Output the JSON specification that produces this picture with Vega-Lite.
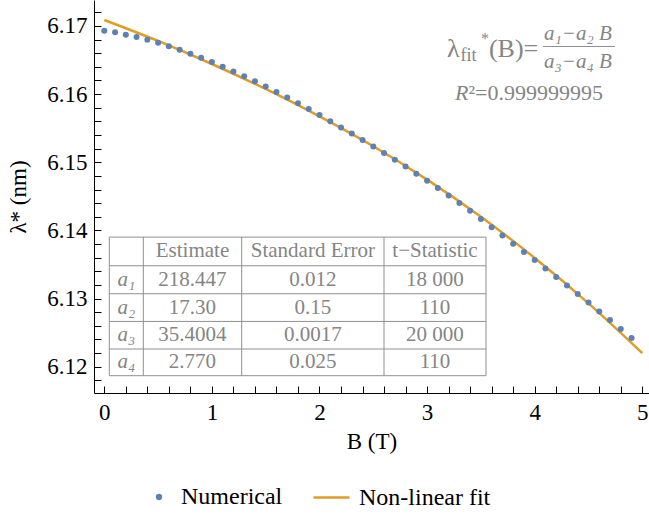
{
  "$schema": "https://vega.github.io/schema/vega-lite/v6.json",
  "width": 555,
  "height": 393,
  "autosize": {"type": "none"},
  "padding": {"left": 94, "top": 0, "right": 0, "bottom": 126},
  "background": "white",
  "config": {
    "view": {"stroke": null},
    "font": "Liberation Serif",
    "legend": {"padding": 0}
  },
  "datasets": {
    "numerical": [
      {"B": 0.0, "lam": 6.16931, "series": "Numerical"},
      {"B": 0.1, "lam": 6.16908, "series": "Numerical"},
      {"B": 0.2, "lam": 6.16872, "series": "Numerical"},
      {"B": 0.3, "lam": 6.16839, "series": "Numerical"},
      {"B": 0.4, "lam": 6.16799, "series": "Numerical"},
      {"B": 0.5, "lam": 6.16755, "series": "Numerical"},
      {"B": 0.6, "lam": 6.16702, "series": "Numerical"},
      {"B": 0.7, "lam": 6.16652, "series": "Numerical"},
      {"B": 0.8, "lam": 6.16594, "series": "Numerical"},
      {"B": 0.9, "lam": 6.16535, "series": "Numerical"},
      {"B": 1.0, "lam": 6.16472, "series": "Numerical"},
      {"B": 1.1, "lam": 6.16403, "series": "Numerical"},
      {"B": 1.2, "lam": 6.16333, "series": "Numerical"},
      {"B": 1.3, "lam": 6.16262, "series": "Numerical"},
      {"B": 1.4, "lam": 6.16189, "series": "Numerical"},
      {"B": 1.5, "lam": 6.16110, "series": "Numerical"},
      {"B": 1.6, "lam": 6.16032, "series": "Numerical"},
      {"B": 1.7, "lam": 6.15949, "series": "Numerical"},
      {"B": 1.8, "lam": 6.15867, "series": "Numerical"},
      {"B": 1.9, "lam": 6.15783, "series": "Numerical"},
      {"B": 2.0, "lam": 6.15695, "series": "Numerical"},
      {"B": 2.1, "lam": 6.15603, "series": "Numerical"},
      {"B": 2.2, "lam": 6.15509, "series": "Numerical"},
      {"B": 2.3, "lam": 6.15421, "series": "Numerical"},
      {"B": 2.4, "lam": 6.15328, "series": "Numerical"},
      {"B": 2.5, "lam": 6.15233, "series": "Numerical"},
      {"B": 2.6, "lam": 6.15136, "series": "Numerical"},
      {"B": 2.7, "lam": 6.15037, "series": "Numerical"},
      {"B": 2.8, "lam": 6.14936, "series": "Numerical"},
      {"B": 2.9, "lam": 6.14833, "series": "Numerical"},
      {"B": 3.0, "lam": 6.14728, "series": "Numerical"},
      {"B": 3.1, "lam": 6.14621, "series": "Numerical"},
      {"B": 3.2, "lam": 6.14512, "series": "Numerical"},
      {"B": 3.3, "lam": 6.14401, "series": "Numerical"},
      {"B": 3.4, "lam": 6.14288, "series": "Numerical"},
      {"B": 3.5, "lam": 6.14168, "series": "Numerical"},
      {"B": 3.6, "lam": 6.14048, "series": "Numerical"},
      {"B": 3.7, "lam": 6.13925, "series": "Numerical"},
      {"B": 3.8, "lam": 6.13804, "series": "Numerical"},
      {"B": 3.9, "lam": 6.13682, "series": "Numerical"},
      {"B": 4.0, "lam": 6.13564, "series": "Numerical"},
      {"B": 4.1, "lam": 6.13441, "series": "Numerical"},
      {"B": 4.2, "lam": 6.13315, "series": "Numerical"},
      {"B": 4.3, "lam": 6.13192, "series": "Numerical"},
      {"B": 4.4, "lam": 6.13066, "series": "Numerical"},
      {"B": 4.5, "lam": 6.12943, "series": "Numerical"},
      {"B": 4.6, "lam": 6.12811, "series": "Numerical"},
      {"B": 4.7, "lam": 6.12685, "series": "Numerical"},
      {"B": 4.8, "lam": 6.12553, "series": "Numerical"},
      {"B": 4.9, "lam": 6.12421, "series": "Numerical"}
    ],
    "fit": [
      {"B": 0.0, "lam": 6.17088, "fitname": "Non-linear fit"},
      {"B": 0.5, "lam": 6.16780, "fitname": "Non-linear fit"},
      {"B": 1.0, "lam": 6.16442, "fitname": "Non-linear fit"},
      {"B": 1.5, "lam": 6.16075, "fitname": "Non-linear fit"},
      {"B": 2.0, "lam": 6.15674, "fitname": "Non-linear fit"},
      {"B": 2.5, "lam": 6.15235, "fitname": "Non-linear fit"},
      {"B": 3.0, "lam": 6.14745, "fitname": "Non-linear fit"},
      {"B": 3.5, "lam": 6.14200, "fitname": "Non-linear fit"},
      {"B": 4.0, "lam": 6.13595, "fitname": "Non-linear fit"},
      {"B": 4.5, "lam": 6.12930, "fitname": "Non-linear fit"},
      {"B": 5.0, "lam": 6.12200, "fitname": "Non-linear fit"}
    ],
    "lines": [
      {"B": 0.0465, "B2": 3.5474, "lam": 6.139018, "lam2": 6.139018},
      {"B": 0.0465, "B2": 3.5474, "lam": 6.134809, "lam2": 6.134809},
      {"B": 0.0465, "B2": 3.5474, "lam": 6.130704, "lam2": 6.130704},
      {"B": 0.0465, "B2": 3.5474, "lam": 6.126642, "lam2": 6.126642},
      {"B": 0.0465, "B2": 3.5474, "lam": 6.122595, "lam2": 6.122595},
      {"B": 0.0465, "B2": 3.5474, "lam": 6.118680, "lam2": 6.118680},
      {"B": 0.0465, "B2": 0.0465, "lam": 6.118680, "lam2": 6.139018},
      {"B": 0.3625, "B2": 0.3625, "lam": 6.118680, "lam2": 6.139018},
      {"B": 1.2770, "B2": 1.2770, "lam": 6.118680, "lam2": 6.139018},
      {"B": 2.5995, "B2": 2.5995, "lam": 6.118680, "lam2": 6.139018},
      {"B": 3.5474, "B2": 3.5474, "lam": 6.118680, "lam2": 6.139018},
      {"B": 4.077, "B2": 4.746, "lam": 6.16699, "lam2": 6.16699}
    ],
    "cells": [
      {"B": 0.8197, "lam": 6.136914, "text": "Estimate"},
      {"B": 1.9382, "lam": 6.136914, "text": "Standard Error"},
      {"B": 3.0734, "lam": 6.136914, "text": "t−Statistic"},
      {"B": 0.8197, "lam": 6.132757, "text": "218.447"},
      {"B": 1.9382, "lam": 6.132757, "text": "0.012"},
      {"B": 3.0734, "lam": 6.132757, "text": "18 000"},
      {"B": 0.8197, "lam": 6.128673, "text": "17.30"},
      {"B": 1.9382, "lam": 6.128673, "text": "0.15"},
      {"B": 3.0734, "lam": 6.128673, "text": "110"},
      {"B": 0.8197, "lam": 6.124619, "text": "35.4004"},
      {"B": 1.9382, "lam": 6.124619, "text": "0.0017"},
      {"B": 3.0734, "lam": 6.124619, "text": "20 000"},
      {"B": 0.8197, "lam": 6.120638, "text": "2.770"},
      {"B": 1.9382, "lam": 6.120638, "text": "0.025"},
      {"B": 3.0734, "lam": 6.120638, "text": "110"}
    ],
    "params": [
      {"B": 0.2045, "lam": 6.132757, "text": "a₁"},
      {"B": 0.2045, "lam": 6.128673, "text": "a₂"},
      {"B": 0.2045, "lam": 6.124619, "text": "a₃"},
      {"B": 0.2045, "lam": 6.120638, "text": "a₄"}
    ],
    "formulaBig": [
      {"B": 3.185, "lam": 6.16663, "text": "λ"},
      {"B": 3.575, "lam": 6.16663, "text": "(B)="}
    ],
    "formulaSub": [
      {"B": 3.31, "lam": 6.1656, "text": "fit"}
    ],
    "formulaStar": [
      {"B": 3.5009, "lam": 6.16809, "text": "*"}
    ],
    "fraction": [
      {"B": 4.402, "lam": 6.16883, "text": "a₁−a₂ B"},
      {"B": 4.402, "lam": 6.16472, "text": "a₃−a₄ B"}
    ],
    "rItalic": [
      {"B": 3.259, "lam": 6.16018, "text": "R"}
    ],
    "rValue": [
      {"B": 3.385, "lam": 6.16018, "text": "²=0.999999995"}
    ]
  },
  "layer": [
    {
      "data": {"name": "fit"},
      "mark": {"type": "line", "strokeWidth": 2.5, "interpolate": "monotone"},
      "encoding": {
        "x": {
          "field": "B", "type": "quantitative",
          "scale": {"domain": [-0.0957, 5.0623], "nice": false, "zero": false},
          "axis": {
            "title": "B (T)",
            "values": [0, 0.2, 0.4, 0.6, 0.8, 1, 1.2, 1.4, 1.6, 1.8, 2, 2.2, 2.4, 2.6, 2.8, 3, 3.2, 3.4, 3.6, 3.8, 4, 4.2, 4.4, 4.6, 4.8, 5],
            "tickCount": 200,
            "labelExpr": "abs(datum.value - round(datum.value)) < 0.001 ? format(datum.value, 'd') : ''",
            "tickSize": -7,
            "grid": false,
            "domainColor": "black", "domainWidth": 1,
            "tickColor": "black", "tickWidth": 1,
            "labelFont": "Liberation Serif", "labelFontSize": 23, "labelColor": "black",
            "labelPadding": 15, "labelFlush": false, "labelOverlap": false,
            "titleFont": "Liberation Serif", "titleFontSize": 23, "titleFontWeight": "normal", "titleColor": "black",
            "titlePadding": 6,
            "encode": {
              "ticks": {
                "y2": {"condition": {"test": "abs(datum.value - round(datum.value)) < 0.001", "value": -7}, "value": -4}
              }
            }
          }
        },
        "y": {
          "field": "lam", "type": "quantitative",
          "scale": {"domain": [6.11614, 6.17381], "nice": false, "zero": false},
          "axis": {
            "title": "λ* (nm)",
            "values": [6.118, 6.12, 6.122, 6.124, 6.126, 6.128, 6.13, 6.132, 6.134, 6.136, 6.138, 6.14, 6.142, 6.144, 6.146, 6.148, 6.15, 6.152, 6.154, 6.156, 6.158, 6.16, 6.162, 6.164, 6.166, 6.168, 6.17, 6.172],
            "tickCount": 200,
            "labelExpr": "abs(datum.value * 100 - round(datum.value * 100)) < 0.01 ? format(datum.value, '.2f') : ''",
            "tickSize": -7,
            "grid": false,
            "domainColor": "black", "domainWidth": 1,
            "tickColor": "black", "tickWidth": 1,
            "labelFont": "Liberation Serif", "labelFontSize": 23, "labelColor": "black",
            "labelPadding": 14, "labelFlush": false, "labelOverlap": false,
            "titleFont": "Liberation Serif", "titleFontSize": 23, "titleFontWeight": "normal", "titleColor": "black",
            "titlePadding": 16,
            "encode": {
              "ticks": {
                "x2": {"condition": {"test": "abs(datum.value * 100 - round(datum.value * 100)) < 0.01", "value": 7}, "value": 4}
              }
            }
          }
        },
        "stroke": {
          "field": "fitname", "type": "nominal",
          "scale": {"domain": ["Non-linear fit"], "range": ["#E19C24"]},
          "legend": {
            "title": null,
            "orient": "none",
            "legendX": 218,
            "legendY": 478,
            "direction": "horizontal",
            "symbolType": "stroke",
            "symbolSize": 1300,
            "symbolStrokeWidth": 2.5,
            "labelFont": "Liberation Serif",
            "labelFontSize": 24,
            "labelColor": "black",
            "labelOffset": 8
          }
        }
      }
    },
    {
      "data": {"name": "numerical"},
      "mark": {"type": "point", "filled": true, "shape": "circle", "size": 36, "opacity": 1},
      "encoding": {
        "x": {"field": "B", "type": "quantitative", "scale": {"domain": [-0.0957, 5.0623], "nice": false, "zero": false}},
        "y": {"field": "lam", "type": "quantitative", "scale": {"domain": [6.11614, 6.17381], "nice": false, "zero": false}},
        "fill": {
          "field": "series", "type": "nominal",
          "scale": {"domain": ["Numerical"], "range": ["#5E81B5"]},
          "legend": {
            "title": null,
            "orient": "none",
            "legendX": 53,
            "legendY": 485,
            "direction": "horizontal",
            "symbolType": "circle",
            "symbolSize": 40,
            "symbolStrokeWidth": 0,
            "symbolOpacity": 1,
            "labelFont": "Liberation Serif",
            "labelFontSize": 24,
            "labelColor": "black",
            "labelOffset": 10
          }
        }
      }
    },
    {
      "data": {"name": "lines"},
      "mark": {"type": "rule", "color": "#8f8f8f", "strokeWidth": 1},
      "encoding": {
        "x": {"field": "B", "type": "quantitative", "scale": {"domain": [-0.0957, 5.0623], "nice": false, "zero": false}},
        "x2": {"field": "B2"},
        "y": {"field": "lam", "type": "quantitative", "scale": {"domain": [6.11614, 6.17381], "nice": false, "zero": false}},
        "y2": {"field": "lam2"}
      }
    },
    {
      "data": {"name": "cells"},
      "mark": {"type": "text", "font": "Liberation Serif", "fontSize": 21, "color": "#858585", "align": "center", "baseline": "middle"},
      "encoding": {
        "x": {"field": "B", "type": "quantitative", "scale": {"domain": [-0.0957, 5.0623], "nice": false, "zero": false}},
        "y": {"field": "lam", "type": "quantitative", "scale": {"domain": [6.11614, 6.17381], "nice": false, "zero": false}},
        "text": {"field": "text"}
      }
    },
    {
      "data": {"name": "params"},
      "mark": {"type": "text", "font": "Liberation Serif", "fontSize": 21, "fontStyle": "italic", "color": "#858585", "align": "center", "baseline": "middle"},
      "encoding": {
        "x": {"field": "B", "type": "quantitative", "scale": {"domain": [-0.0957, 5.0623], "nice": false, "zero": false}},
        "y": {"field": "lam", "type": "quantitative", "scale": {"domain": [6.11614, 6.17381], "nice": false, "zero": false}},
        "text": {"field": "text"}
      }
    },
    {
      "data": {"name": "formulaBig"},
      "mark": {"type": "text", "font": "Liberation Serif", "fontSize": 26, "color": "#858585", "align": "left", "baseline": "middle"},
      "encoding": {
        "x": {"field": "B", "type": "quantitative", "scale": {"domain": [-0.0957, 5.0623], "nice": false, "zero": false}},
        "y": {"field": "lam", "type": "quantitative", "scale": {"domain": [6.11614, 6.17381], "nice": false, "zero": false}},
        "text": {"field": "text"}
      }
    },
    {
      "data": {"name": "formulaSub"},
      "mark": {"type": "text", "font": "Liberation Serif", "fontSize": 18, "color": "#858585", "align": "left", "baseline": "middle"},
      "encoding": {
        "x": {"field": "B", "type": "quantitative", "scale": {"domain": [-0.0957, 5.0623], "nice": false, "zero": false}},
        "y": {"field": "lam", "type": "quantitative", "scale": {"domain": [6.11614, 6.17381], "nice": false, "zero": false}},
        "text": {"field": "text"}
      }
    },
    {
      "data": {"name": "formulaStar"},
      "mark": {"type": "text", "font": "Liberation Serif", "fontSize": 16, "color": "#858585", "align": "left", "baseline": "middle"},
      "encoding": {
        "x": {"field": "B", "type": "quantitative", "scale": {"domain": [-0.0957, 5.0623], "nice": false, "zero": false}},
        "y": {"field": "lam", "type": "quantitative", "scale": {"domain": [6.11614, 6.17381], "nice": false, "zero": false}},
        "text": {"field": "text"}
      }
    },
    {
      "data": {"name": "fraction"},
      "mark": {"type": "text", "font": "Liberation Serif", "fontSize": 21, "fontStyle": "italic", "color": "#858585", "align": "center", "baseline": "middle"},
      "encoding": {
        "x": {"field": "B", "type": "quantitative", "scale": {"domain": [-0.0957, 5.0623], "nice": false, "zero": false}},
        "y": {"field": "lam", "type": "quantitative", "scale": {"domain": [6.11614, 6.17381], "nice": false, "zero": false}},
        "text": {"field": "text"}
      }
    },
    {
      "data": {"name": "rItalic"},
      "mark": {"type": "text", "font": "Liberation Serif", "fontSize": 22, "fontStyle": "italic", "color": "#858585", "align": "left", "baseline": "middle"},
      "encoding": {
        "x": {"field": "B", "type": "quantitative", "scale": {"domain": [-0.0957, 5.0623], "nice": false, "zero": false}},
        "y": {"field": "lam", "type": "quantitative", "scale": {"domain": [6.11614, 6.17381], "nice": false, "zero": false}},
        "text": {"field": "text"}
      }
    },
    {
      "data": {"name": "rValue"},
      "mark": {"type": "text", "font": "Liberation Serif", "fontSize": 22, "color": "#858585", "align": "left", "baseline": "middle"},
      "encoding": {
        "x": {"field": "B", "type": "quantitative", "scale": {"domain": [-0.0957, 5.0623], "nice": false, "zero": false}},
        "y": {"field": "lam", "type": "quantitative", "scale": {"domain": [6.11614, 6.17381], "nice": false, "zero": false}},
        "text": {"field": "text"}
      }
    }
  ]
}
